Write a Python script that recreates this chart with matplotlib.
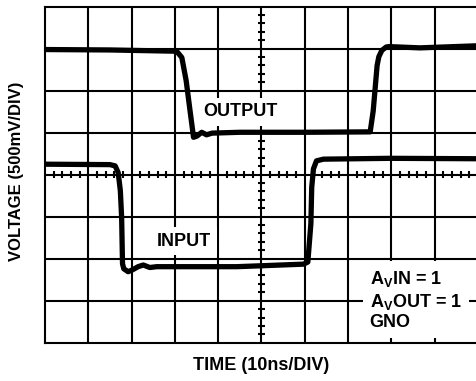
import numpy as np
import matplotlib.pyplot as plt

plt.rcParams['font.family'] = ['Liberation Sans', 'DejaVu Sans']
plt.rcParams['font.weight'] = 'bold'
plt.rcParams['mathtext.fontset'] = 'custom'
plt.rcParams['mathtext.rm'] = 'Liberation Sans:bold'
plt.rcParams['mathtext.it'] = 'Liberation Sans:bold'
plt.rcParams['mathtext.bf'] = 'Liberation Sans:bold'

# scope traces, in divisions (x: time, y: voltage, 0 = centre line)
out_t = [0.0, 1.5, 3.04, 3.16, 3.26, 3.35, 3.41, 3.43, 3.51, 3.62, 3.73, 3.86,
         4.5, 6.0, 7.51, 7.58, 7.67, 7.71, 7.78, 7.88, 7.94, 8.66, 10.0]
out_v = [2.98, 2.97, 2.94, 2.79, 2.24, 1.52, 1.05, 0.89, 0.92, 1.01, 0.95, 0.99,
         1.01, 1.01, 1.02, 1.52, 2.60, 2.81, 2.96, 3.04, 3.05, 3.02, 3.07]

in_t = [0.0, 1.5, 1.62, 1.69, 1.74, 1.77, 1.79, 1.82, 1.92, 2.03, 2.15, 2.27,
        2.42, 2.58, 4.43, 5.97, 6.07, 6.14, 6.16, 6.20, 6.27, 6.43, 7.97, 10.0]
in_v = [0.25, 0.24, 0.21, 0.05, -0.38, -1.02, -2.12, -2.24, -2.31, -2.26, -2.19, -2.15,
        -2.21, -2.19, -2.19, -2.13, -2.08, -1.17, -0.30, 0.14, 0.33, 0.37, 0.39, 0.38]

fig = plt.figure(figsize=(4.77, 3.81), dpi=100)
ax = fig.add_axes([45 / 477, 38.3 / 381, 433 / 477, 336 / 381])
ax.set_xlim(0, 10)
ax.set_ylim(-4, 4)
ax.set_xticks([])
ax.set_yticks([])
for s in ax.spines.values():
    s.set_linewidth(1.5)

# graticule
for x in range(1, 10):
    ax.axvline(x, color='black', lw=1.5, zorder=1)
for y in range(-3, 4):
    ax.axhline(y, color='black', lw=1.5, zorder=1)

# minor ticks on the centre lines
minor = np.arange(0, 10.01, 0.2)
minor = minor[np.abs(minor - np.round(minor)) > 0.01]
ax.vlines(minor, -0.09, 0.09, color='black', lw=1.5, zorder=1)
minor_y = np.arange(-4, 4.01, 0.2)
minor_y = minor_y[np.abs(minor_y - np.round(minor_y)) > 0.01]
ax.hlines(minor_y, 5 - 0.085, 5 + 0.085, color='black', lw=1.5, zorder=1)

ax.plot(out_t, out_v, color='black', lw=3.8, solid_joinstyle='round',
        solid_capstyle='round', zorder=3)
ax.plot(in_t, in_v, color='black', lw=3.8, solid_joinstyle='round',
        solid_capstyle='round', zorder=3)

box = dict(facecolor='white', edgecolor='none', boxstyle='square,pad=0.3')
ax.text(4.52, 1.5, 'OUTPUT', fontsize=13, fontweight='bold', ha='center',
        va='center', bbox=box, zorder=4)
ax.text(3.21, -1.58, 'INPUT', fontsize=13, fontweight='bold', ha='center',
        va='center', bbox=box, zorder=4)
ax.text(7.5, -2.99, 'A$_\\mathrm{V}$IN = 1\nA$_\\mathrm{V}$OUT = 1\nGNO',
        fontsize=13, fontweight='bold', ha='left', va='center', linespacing=1.17,
        bbox=dict(facecolor='white', edgecolor='none', boxstyle='square,pad=0.4'),
        zorder=4)

fig.text(17 / 477, 1 - 171 / 381, 'VOLTAGE (500mV/DIV)', fontsize=12,
         fontweight='bold', rotation=90, ha='center', va='center')
fig.text(261.5 / 477, 1 - 366 / 381, 'TIME (10ns/DIV)', fontsize=13,
         fontweight='bold', ha='center', va='center')

fig.savefig('out.png', dpi=100)
